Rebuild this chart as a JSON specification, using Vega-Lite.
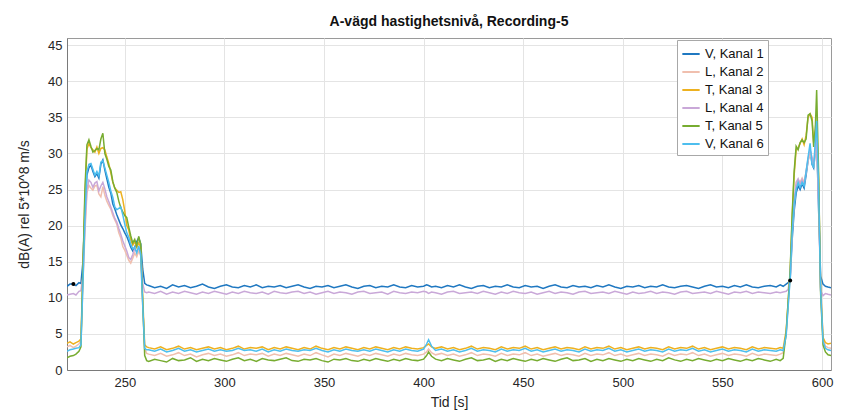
{
  "$schema": "https://vega.github.io/schema/vega-lite/v6.json",
  "width": 764,
  "height": 332,
  "autosize": {"type": "none"},
  "padding": {"left": 67, "top": 38, "right": 13, "bottom": 47},
  "background": "white",
  "title": {"text": "A-vägd hastighetsnivå, Recording-5", "fontSize": 14, "fontWeight": "bold", "font": "Liberation Sans", "color": "#111", "offset": 9},
  "config": {
    "view": {"stroke": "#9a9a9a", "strokeWidth": 1},
    "font": "Liberation Sans",
    "axis": {
      "grid": true, "gridColor": "#e4e4e4", "gridWidth": 1,
      "domainColor": "#7a7a7a", "ticks": false, "labelOverlap": false,
      "labelFontSize": 13, "labelColor": "#262626", "labelFont": "Liberation Sans",
      "titleFontSize": 14, "titleFontWeight": "normal", "titleColor": "#262626", "titleFont": "Liberation Sans"
    }
  },
  "datasets": {
    "sig": [
      {"t":221,"K1":11.6,"K2":3.2,"K3":3.7,"K4":10.4,"K5":1.7,"K6":2.6},
      {"t":222.5,"K1":11.9,"K2":3.4,"K3":3.9,"K4":10.5,"K5":1.9,"K6":2.8},
      {"t":224.2,"K1":11.9,"K2":3.1,"K3":3.6,"K4":10.6,"K5":2.0,"K6":2.9},
      {"t":225.5,"K1":11.7,"K2":3.3,"K3":3.8,"K4":10.4,"K5":2.2,"K6":3.0},
      {"t":227,"K1":12.1,"K2":3.6,"K3":4.0,"K4":10.9,"K5":2.6,"K6":3.1},
      {"t":228,"K1":12.0,"K2":4.0,"K3":4.3,"K4":11.0,"K5":3.2,"K6":3.5},
      {"t":229,"K1":15.0,"K2":12.0,"K3":14.0,"K4":13.0,"K5":14.0,"K6":12.0},
      {"t":230,"K1":22.0,"K2":19.0,"K3":24.0,"K4":20.0,"K5":25.0,"K6":21.0},
      {"t":231,"K1":27.0,"K2":24.5,"K3":30.6,"K4":25.0,"K5":31.2,"K6":27.5},
      {"t":232,"K1":28.0,"K2":25.6,"K3":31.4,"K4":26.3,"K5":31.9,"K6":28.5},
      {"t":233,"K1":28.4,"K2":25.2,"K3":30.8,"K4":26.0,"K5":31.0,"K6":28.6},
      {"t":234,"K1":27.5,"K2":24.9,"K3":30.5,"K4":25.3,"K5":30.2,"K6":27.8},
      {"t":235,"K1":26.8,"K2":25.5,"K3":30.2,"K4":25.9,"K5":30.4,"K6":27.0},
      {"t":236,"K1":27.2,"K2":25.6,"K3":30.9,"K4":26.1,"K5":30.7,"K6":27.5},
      {"t":237,"K1":26.6,"K2":24.4,"K3":30.0,"K4":24.8,"K5":30.5,"K6":26.9},
      {"t":238,"K1":28.5,"K2":24.0,"K3":30.7,"K4":25.5,"K5":32.0,"K6":28.8},
      {"t":239,"K1":29.1,"K2":25.4,"K3":30.8,"K4":26.0,"K5":32.8,"K6":29.0},
      {"t":240,"K1":27.7,"K2":24.2,"K3":30.5,"K4":25.1,"K5":30.0,"K6":28.0},
      {"t":241,"K1":26.5,"K2":23.4,"K3":29.5,"K4":24.0,"K5":29.2,"K6":27.0},
      {"t":242,"K1":25.3,"K2":22.8,"K3":28.6,"K4":23.3,"K5":28.2,"K6":26.0},
      {"t":243,"K1":24.5,"K2":22.3,"K3":27.3,"K4":22.6,"K5":27.7,"K6":24.8},
      {"t":244,"K1":23.0,"K2":21.4,"K3":26.0,"K4":21.8,"K5":26.1,"K6":23.9},
      {"t":245,"K1":22.3,"K2":20.8,"K3":25.2,"K4":21.0,"K5":25.2,"K6":22.6},
      {"t":246,"K1":21.5,"K2":20.2,"K3":24.9,"K4":20.5,"K5":24.6,"K6":22.2},
      {"t":247,"K1":20.8,"K2":19.0,"K3":24.6,"K4":19.6,"K5":23.4,"K6":22.4},
      {"t":248,"K1":20.1,"K2":18.3,"K3":24.7,"K4":18.8,"K5":22.5,"K6":22.6},
      {"t":249,"K1":19.6,"K2":17.1,"K3":23.6,"K4":17.9,"K5":21.9,"K6":21.5},
      {"t":250,"K1":19.0,"K2":16.6,"K3":22.0,"K4":17.2,"K5":21.4,"K6":20.2},
      {"t":251,"K1":18.5,"K2":15.9,"K3":20.0,"K4":16.5,"K5":21.1,"K6":19.0},
      {"t":252,"K1":17.8,"K2":15.2,"K3":19.4,"K4":15.6,"K5":19.8,"K6":18.4},
      {"t":253,"K1":17.0,"K2":14.8,"K3":18.0,"K4":15.3,"K5":18.6,"K6":17.4},
      {"t":254,"K1":16.5,"K2":15.5,"K3":17.3,"K4":16.0,"K5":17.6,"K6":16.8},
      {"t":255,"K1":17.0,"K2":16.2,"K3":17.8,"K4":16.8,"K5":18.1,"K6":17.0},
      {"t":256,"K1":17.8,"K2":15.7,"K3":17.0,"K4":16.4,"K5":17.2,"K6":16.2},
      {"t":257,"K1":18.3,"K2":16.5,"K3":17.6,"K4":17.0,"K5":18.5,"K6":17.2},
      {"t":258,"K1":17.5,"K2":15.8,"K3":17.0,"K4":16.2,"K5":17.4,"K6":16.0},
      {"t":259,"K1":14.0,"K2":9.0,"K3":10.0,"K4":12.0,"K5":9.5,"K6":9.0},
      {"t":260,"K1":12.0,"K2":3.0,"K3":3.5,"K4":10.8,"K5":2.0,"K6":3.0},
      {"t":261,"K1":11.8,"K2":2.3,"K3":3.2,"K4":10.7,"K5":1.3,"K6":2.8},
      {"t":262,"K1":11.7,"K2":2.2,"K3":3.1,"K4":10.8,"K5":1.2,"K6":2.8},
      {"t":265,"K1":11.4,"K2":2.0,"K3":2.9,"K4":10.6,"K5":1.5,"K6":2.6},
      {"t":268,"K1":11.6,"K2":2.3,"K3":3.2,"K4":10.9,"K5":1.3,"K6":2.9},
      {"t":271,"K1":11.3,"K2":1.9,"K3":2.8,"K4":10.5,"K5":1.1,"K6":2.5},
      {"t":274,"K1":11.8,"K2":2.1,"K3":3.0,"K4":10.8,"K5":1.6,"K6":2.7},
      {"t":277,"K1":11.5,"K2":2.4,"K3":3.3,"K4":10.6,"K5":1.3,"K6":3.0},
      {"t":280,"K1":11.7,"K2":2.0,"K3":2.9,"K4":10.9,"K5":1.4,"K6":2.6},
      {"t":283,"K1":11.4,"K2":2.2,"K3":3.1,"K4":10.7,"K5":1.7,"K6":2.8},
      {"t":286,"K1":11.6,"K2":1.8,"K3":2.8,"K4":10.5,"K5":1.2,"K6":2.5},
      {"t":289,"K1":11.9,"K2":2.1,"K3":3.0,"K4":10.8,"K5":1.5,"K6":2.7},
      {"t":292,"K1":11.5,"K2":2.3,"K3":3.2,"K4":10.6,"K5":1.3,"K6":2.9},
      {"t":295,"K1":11.3,"K2":2.0,"K3":2.9,"K4":10.9,"K5":1.6,"K6":2.6},
      {"t":298,"K1":11.6,"K2":2.2,"K3":3.1,"K4":10.7,"K5":1.4,"K6":2.8},
      {"t":301,"K1":11.8,"K2":1.9,"K3":2.8,"K4":10.5,"K5":1.2,"K6":2.6},
      {"t":304,"K1":11.5,"K2":2.1,"K3":3.0,"K4":10.8,"K5":1.5,"K6":2.7},
      {"t":307,"K1":11.4,"K2":2.4,"K3":3.3,"K4":10.6,"K5":1.7,"K6":3.0},
      {"t":310,"K1":11.7,"K2":2.0,"K3":2.9,"K4":10.9,"K5":1.3,"K6":2.7},
      {"t":313,"K1":11.5,"K2":2.2,"K3":3.1,"K4":10.7,"K5":1.5,"K6":2.8},
      {"t":316,"K1":11.8,"K2":2.1,"K3":3.0,"K4":10.6,"K5":1.2,"K6":2.6},
      {"t":319,"K1":11.4,"K2":2.3,"K3":3.2,"K4":10.8,"K5":1.6,"K6":2.9},
      {"t":322,"K1":11.6,"K2":1.9,"K3":2.8,"K4":10.5,"K5":1.4,"K6":2.5},
      {"t":325,"K1":11.5,"K2":2.2,"K3":3.1,"K4":10.9,"K5":1.3,"K6":2.8},
      {"t":328,"K1":11.7,"K2":2.0,"K3":2.9,"K4":10.7,"K5":1.5,"K6":2.6},
      {"t":331,"K1":11.4,"K2":2.3,"K3":3.2,"K4":10.6,"K5":1.7,"K6":2.9},
      {"t":334,"K1":11.6,"K2":2.1,"K3":3.0,"K4":10.8,"K5":1.3,"K6":2.7},
      {"t":337,"K1":11.8,"K2":1.9,"K3":2.8,"K4":10.9,"K5":1.2,"K6":2.6},
      {"t":340,"K1":11.5,"K2":2.2,"K3":3.1,"K4":10.6,"K5":1.5,"K6":2.8},
      {"t":343,"K1":11.3,"K2":2.0,"K3":2.9,"K4":10.8,"K5":1.4,"K6":2.7},
      {"t":346,"K1":11.6,"K2":2.4,"K3":3.3,"K4":10.5,"K5":1.6,"K6":3.0},
      {"t":349,"K1":11.5,"K2":2.1,"K3":3.0,"K4":10.7,"K5":1.3,"K6":2.7},
      {"t":352,"K1":11.7,"K2":1.8,"K3":2.8,"K4":10.9,"K5":1.1,"K6":2.5},
      {"t":355,"K1":11.4,"K2":2.2,"K3":3.1,"K4":10.6,"K5":1.5,"K6":2.8},
      {"t":358,"K1":11.6,"K2":2.0,"K3":2.9,"K4":10.8,"K5":1.4,"K6":2.6},
      {"t":361,"K1":11.8,"K2":2.3,"K3":3.2,"K4":10.7,"K5":1.6,"K6":2.9},
      {"t":364,"K1":11.5,"K2":2.1,"K3":3.0,"K4":10.5,"K5":1.3,"K6":2.7},
      {"t":367,"K1":11.3,"K2":1.9,"K3":2.8,"K4":10.8,"K5":1.2,"K6":2.6},
      {"t":370,"K1":11.6,"K2":2.2,"K3":3.1,"K4":10.9,"K5":1.5,"K6":2.8},
      {"t":373,"K1":11.7,"K2":2.0,"K3":2.9,"K4":10.6,"K5":1.3,"K6":2.6},
      {"t":376,"K1":11.4,"K2":2.3,"K3":3.2,"K4":10.7,"K5":1.6,"K6":2.9},
      {"t":379,"K1":11.6,"K2":2.1,"K3":3.0,"K4":10.8,"K5":1.4,"K6":2.7},
      {"t":382,"K1":11.5,"K2":1.9,"K3":2.8,"K4":10.5,"K5":1.2,"K6":2.5},
      {"t":385,"K1":11.8,"K2":2.2,"K3":3.1,"K4":10.9,"K5":1.5,"K6":2.8},
      {"t":388,"K1":11.5,"K2":2.0,"K3":2.9,"K4":10.7,"K5":1.3,"K6":2.6},
      {"t":391,"K1":11.4,"K2":2.3,"K3":3.2,"K4":10.6,"K5":1.6,"K6":2.9},
      {"t":394,"K1":11.7,"K2":2.1,"K3":3.0,"K4":10.8,"K5":1.4,"K6":2.7},
      {"t":397,"K1":11.5,"K2":2.0,"K3":2.9,"K4":10.7,"K5":1.3,"K6":2.6},
      {"t":400,"K1":11.6,"K2":2.2,"K3":3.1,"K4":10.9,"K5":1.5,"K6":2.9},
      {"t":401.5,"K1":11.8,"K2":2.5,"K3":3.4,"K4":10.8,"K5":2.0,"K6":3.6},
      {"t":402.5,"K1":11.7,"K2":2.9,"K3":3.6,"K4":10.6,"K5":2.5,"K6":4.2},
      {"t":404,"K1":11.5,"K2":2.4,"K3":3.2,"K4":10.8,"K5":1.9,"K6":3.3},
      {"t":406,"K1":11.6,"K2":2.1,"K3":3.0,"K4":10.7,"K5":1.5,"K6":2.7},
      {"t":409,"K1":11.4,"K2":2.3,"K3":3.2,"K4":10.5,"K5":1.3,"K6":2.9},
      {"t":412,"K1":11.7,"K2":2.0,"K3":2.9,"K4":10.8,"K5":1.6,"K6":2.6},
      {"t":415,"K1":11.5,"K2":2.2,"K3":3.1,"K4":10.9,"K5":1.4,"K6":2.8},
      {"t":418,"K1":11.8,"K2":1.9,"K3":2.8,"K4":10.6,"K5":1.2,"K6":2.5},
      {"t":421,"K1":11.5,"K2":2.1,"K3":3.0,"K4":10.7,"K5":1.5,"K6":2.7},
      {"t":424,"K1":11.3,"K2":2.4,"K3":3.3,"K4":10.8,"K5":1.7,"K6":3.0},
      {"t":427,"K1":11.6,"K2":2.0,"K3":2.9,"K4":10.6,"K5":1.3,"K6":2.6},
      {"t":430,"K1":11.7,"K2":2.2,"K3":3.1,"K4":10.9,"K5":1.4,"K6":2.8},
      {"t":433,"K1":11.4,"K2":2.1,"K3":3.0,"K4":10.7,"K5":1.6,"K6":2.7},
      {"t":436,"K1":11.6,"K2":1.9,"K3":2.8,"K4":10.5,"K5":1.2,"K6":2.5},
      {"t":439,"K1":11.5,"K2":2.3,"K3":3.2,"K4":10.8,"K5":1.5,"K6":2.9},
      {"t":442,"K1":11.8,"K2":2.0,"K3":2.9,"K4":10.6,"K5":1.3,"K6":2.6},
      {"t":445,"K1":11.5,"K2":2.2,"K3":3.1,"K4":10.9,"K5":1.6,"K6":2.8},
      {"t":448,"K1":11.4,"K2":2.1,"K3":3.0,"K4":10.7,"K5":1.4,"K6":2.7},
      {"t":451,"K1":11.7,"K2":2.4,"K3":3.3,"K4":10.6,"K5":1.2,"K6":3.0},
      {"t":454,"K1":11.5,"K2":2.0,"K3":2.9,"K4":10.8,"K5":1.5,"K6":2.6},
      {"t":457,"K1":11.6,"K2":2.2,"K3":3.1,"K4":10.5,"K5":1.3,"K6":2.8},
      {"t":460,"K1":11.3,"K2":1.9,"K3":2.8,"K4":10.7,"K5":1.6,"K6":2.5},
      {"t":463,"K1":11.6,"K2":2.1,"K3":3.0,"K4":10.9,"K5":1.4,"K6":2.7},
      {"t":466,"K1":11.8,"K2":2.3,"K3":3.2,"K4":10.6,"K5":1.2,"K6":2.9},
      {"t":469,"K1":11.5,"K2":2.0,"K3":2.9,"K4":10.8,"K5":1.5,"K6":2.6},
      {"t":472,"K1":11.4,"K2":2.2,"K3":3.1,"K4":10.7,"K5":1.7,"K6":2.8},
      {"t":475,"K1":11.7,"K2":2.1,"K3":3.0,"K4":10.5,"K5":1.3,"K6":2.7},
      {"t":478,"K1":11.5,"K2":1.9,"K3":2.8,"K4":10.8,"K5":1.4,"K6":2.5},
      {"t":481,"K1":11.6,"K2":2.3,"K3":3.2,"K4":10.9,"K5":1.6,"K6":2.9},
      {"t":484,"K1":11.4,"K2":2.0,"K3":2.9,"K4":10.6,"K5":1.2,"K6":2.6},
      {"t":487,"K1":11.7,"K2":2.2,"K3":3.1,"K4":10.7,"K5":1.5,"K6":2.8},
      {"t":490,"K1":11.5,"K2":2.1,"K3":3.0,"K4":10.8,"K5":1.3,"K6":2.7},
      {"t":493,"K1":11.8,"K2":2.4,"K3":3.3,"K4":10.6,"K5":1.6,"K6":3.0},
      {"t":496,"K1":11.5,"K2":2.0,"K3":2.9,"K4":10.9,"K5":1.4,"K6":2.6},
      {"t":499,"K1":11.3,"K2":2.2,"K3":3.1,"K4":10.7,"K5":1.2,"K6":2.8},
      {"t":502,"K1":11.6,"K2":1.9,"K3":2.8,"K4":10.5,"K5":1.5,"K6":2.5},
      {"t":505,"K1":11.5,"K2":2.1,"K3":3.0,"K4":10.8,"K5":1.3,"K6":2.7},
      {"t":508,"K1":11.7,"K2":2.3,"K3":3.2,"K4":10.6,"K5":1.6,"K6":2.9},
      {"t":511,"K1":11.4,"K2":2.0,"K3":2.9,"K4":10.7,"K5":1.4,"K6":2.6},
      {"t":514,"K1":11.6,"K2":2.2,"K3":3.1,"K4":10.9,"K5":1.2,"K6":2.8},
      {"t":517,"K1":11.5,"K2":2.1,"K3":3.0,"K4":10.6,"K5":1.5,"K6":2.7},
      {"t":520,"K1":11.8,"K2":1.9,"K3":2.8,"K4":10.8,"K5":1.3,"K6":2.5},
      {"t":523,"K1":11.5,"K2":2.3,"K3":3.2,"K4":10.7,"K5":1.7,"K6":2.9},
      {"t":526,"K1":11.4,"K2":2.0,"K3":2.9,"K4":10.5,"K5":1.4,"K6":2.6},
      {"t":529,"K1":11.6,"K2":2.2,"K3":3.1,"K4":10.8,"K5":1.2,"K6":2.8},
      {"t":532,"K1":11.7,"K2":2.1,"K3":3.0,"K4":10.9,"K5":1.5,"K6":2.7},
      {"t":535,"K1":11.5,"K2":2.4,"K3":3.3,"K4":10.6,"K5":1.3,"K6":3.0},
      {"t":538,"K1":11.3,"K2":2.0,"K3":2.9,"K4":10.7,"K5":1.6,"K6":2.6},
      {"t":541,"K1":11.6,"K2":2.2,"K3":3.1,"K4":10.8,"K5":1.4,"K6":2.8},
      {"t":544,"K1":11.8,"K2":1.9,"K3":2.8,"K4":10.6,"K5":1.2,"K6":2.5},
      {"t":547,"K1":11.5,"K2":2.1,"K3":3.0,"K4":10.9,"K5":1.5,"K6":2.7},
      {"t":550,"K1":11.6,"K2":2.3,"K3":3.2,"K4":10.7,"K5":1.3,"K6":2.9},
      {"t":553,"K1":11.4,"K2":2.0,"K3":2.9,"K4":10.5,"K5":1.6,"K6":2.6},
      {"t":556,"K1":11.7,"K2":2.2,"K3":3.1,"K4":10.8,"K5":1.4,"K6":2.8},
      {"t":559,"K1":11.5,"K2":2.1,"K3":3.0,"K4":10.7,"K5":1.2,"K6":2.7},
      {"t":562,"K1":11.8,"K2":1.9,"K3":2.8,"K4":10.9,"K5":1.5,"K6":2.5},
      {"t":565,"K1":11.5,"K2":2.3,"K3":3.2,"K4":10.6,"K5":1.3,"K6":2.9},
      {"t":568,"K1":11.4,"K2":2.0,"K3":2.9,"K4":10.8,"K5":1.6,"K6":2.6},
      {"t":571,"K1":11.6,"K2":2.2,"K3":3.1,"K4":10.7,"K5":1.4,"K6":2.8},
      {"t":574,"K1":11.7,"K2":2.1,"K3":3.0,"K4":10.6,"K5":1.2,"K6":2.7},
      {"t":577,"K1":11.5,"K2":2.0,"K3":2.9,"K4":10.8,"K5":1.5,"K6":2.6},
      {"t":579,"K1":11.8,"K2":2.2,"K3":3.1,"K4":10.7,"K5":1.3,"K6":2.8},
      {"t":580.5,"K1":11.6,"K2":2.4,"K3":3.0,"K4":10.8,"K5":1.6,"K6":2.7},
      {"t":582,"K1":11.9,"K2":5.0,"K3":5.5,"K4":10.9,"K5":5.2,"K6":4.8},
      {"t":583,"K1":12.1,"K2":9.0,"K3":9.5,"K4":11.2,"K5":9.6,"K6":8.8},
      {"t":584,"K1":12.4,"K2":13.0,"K3":13.5,"K4":12.8,"K5":13.8,"K6":12.7},
      {"t":585,"K1":18.0,"K2":19.0,"K3":21.0,"K4":19.5,"K5":21.5,"K6":19.0},
      {"t":586,"K1":22.0,"K2":23.0,"K3":27.0,"K4":23.5,"K5":27.5,"K6":23.0},
      {"t":587,"K1":24.5,"K2":25.5,"K3":30.5,"K4":26.0,"K5":31.0,"K6":25.0},
      {"t":588,"K1":25.5,"K2":26.3,"K3":30.8,"K4":26.5,"K5":30.5,"K6":26.0},
      {"t":589,"K1":25.0,"K2":26.0,"K3":31.4,"K4":25.8,"K5":31.5,"K6":25.3},
      {"t":590,"K1":25.8,"K2":26.6,"K3":32.0,"K4":26.4,"K5":31.9,"K6":26.0},
      {"t":591,"K1":25.2,"K2":26.0,"K3":31.2,"K4":25.6,"K5":31.5,"K6":25.5},
      {"t":592,"K1":27.0,"K2":27.5,"K3":32.5,"K4":27.5,"K5":32.0,"K6":27.5},
      {"t":593,"K1":29.0,"K2":29.0,"K3":35.0,"K4":29.3,"K5":35.3,"K6":29.5},
      {"t":594,"K1":30.5,"K2":30.0,"K3":35.5,"K4":30.5,"K5":35.5,"K6":31.4},
      {"t":595,"K1":28.5,"K2":29.0,"K3":35.0,"K4":29.5,"K5":34.5,"K6":28.5},
      {"t":595.8,"K1":28.0,"K2":28.0,"K3":31.5,"K4":28.5,"K5":30.9,"K6":28.0},
      {"t":596.7,"K1":30.5,"K2":30.5,"K3":33.0,"K4":31.0,"K5":34.0,"K6":32.0},
      {"t":597.3,"K1":32.0,"K2":31.5,"K3":34.0,"K4":32.0,"K5":38.8,"K6":34.5},
      {"t":598.3,"K1":22.0,"K2":24.0,"K3":26.0,"K4":23.0,"K5":27.0,"K6":25.0},
      {"t":599.3,"K1":13.0,"K2":11.0,"K3":11.5,"K4":11.0,"K5":10.5,"K6":11.0},
      {"t":600.5,"K1":11.9,"K2":4.5,"K3":4.5,"K4":10.3,"K5":3.5,"K6":4.0},
      {"t":601.7,"K1":11.6,"K2":3.3,"K3":3.8,"K4":10.6,"K5":2.5,"K6":3.0},
      {"t":603,"K1":11.5,"K2":3.1,"K3":3.6,"K4":10.5,"K5":2.1,"K6":2.8},
      {"t":604.5,"K1":11.4,"K2":3.0,"K3":3.7,"K4":10.4,"K5":2.0,"K6":2.7}
    ],
    "dots": [
      {"t":224.2,"v":11.9},
      {"t":584,"v":12.4}
    ]
  },
  "encoding": {
    "x": {"field": "t", "type": "quantitative",
          "scale": {"domain": [221, 604.5], "nice": false, "zero": false},
          "axis": {"title": "Tid [s]", "values": [250,300,350,400,450,500,550,600], "tickCount": 8, "labelPadding": 6, "titlePadding": 6}},
    "y": {"field": "v", "type": "quantitative",
          "scale": {"domain": [0, 46], "nice": false},
          "axis": {"title": "dB(A) rel 5*10^8 m/s", "values": [0,5,10,15,20,25,30,35,40,45], "tickCount": 10, "labelPadding": 5, "titlePadding": 16}}
  },
  "layer": [
    {
      "data": {"name": "sig"},
      "transform": [{"fold": ["K1","K2","K3","K4","K5","K6"], "as": ["ch","v"]}],
      "mark": {"type": "line", "strokeWidth": 1.5, "clip": true},
      "encoding": {
        "color": {"field": "ch", "type": "nominal",
                  "scale": {"domain": ["K1","K2","K3","K4","K5","K6"],
                            "range": ["#1f78c1","#f0bfae","#EDB120","#c9a8d8","#77AC30","#4DBEEE"]},
                  "legend": {"title": null, "orient": "none", "legendX": 610, "legendY": 2,
                             "direction": "vertical", "symbolType": "stroke", "symbolSize": 300,
                             "symbolStrokeWidth": 2, "labelFontSize": 13, "labelColor": "#111",
                             "labelFont": "Liberation Sans", "rowPadding": 1, "padding": 4,
                             "strokeColor": "#a8a8a8", "fillColor": "white",
                             "labelExpr": "{'K1':'V, Kanal 1','K2':'L, Kanal 2','K3':'T, Kanal 3','K4':'L, Kanal 4','K5':'T, Kanal 5','K6':'V, Kanal 6'}[datum.label]"}}
      }
    },
    {
      "data": {"name": "dots"},
      "mark": {"type": "point", "filled": true, "size": 16, "color": "#000", "opacity": 1},
      "encoding": {}
    }
  ]
}
